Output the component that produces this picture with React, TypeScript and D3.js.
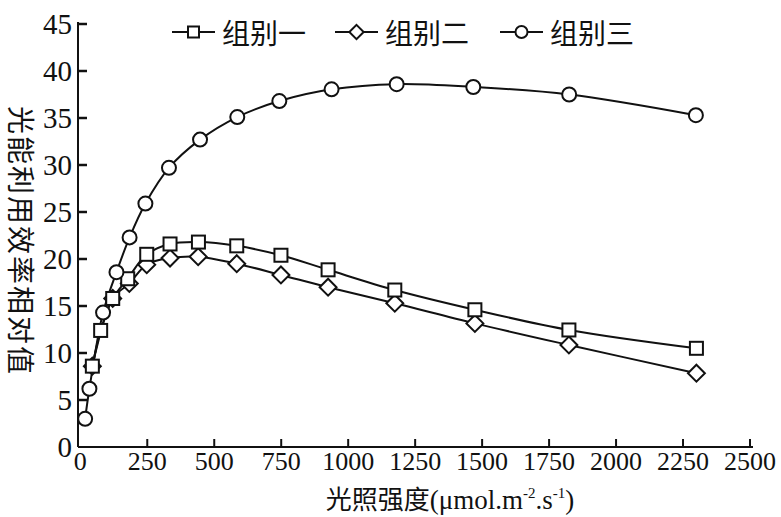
import React from "react";
import * as d3 from "d3";

const xTicks = [0, 250, 500, 750, 1000, 1250, 1500, 1750, 2000, 2250, 2500];
const yTicks = [0, 5, 10, 15, 20, 25, 30, 35, 40, 45];

const seriesNames = ["组别一", "组别二", "组别三"];

const group1X = [45, 76, 121, 177, 248, 335, 441, 584, 749, 925, 1174, 1473, 1824, 2300];
const group1Y = [8.6, 12.4, 15.8, 17.9, 20.5, 21.6, 21.8, 21.4, 20.4, 18.85, 16.7, 14.6, 12.45, 10.5];

const group2X = [45, 121, 183, 248, 335, 440, 584, 749, 925, 1174, 1473, 1824, 2300];
const group2Y = [8.6, 15.8, 17.4, 19.4, 20.1, 20.25, 19.5, 18.3, 17.0, 15.3, 13.15, 10.85, 7.85];

const group3X = [18, 34, 85, 135, 184, 243, 331, 447, 586, 743, 938, 1181, 1467, 1825, 2298];
const group3Y = [3.0, 6.2, 14.3, 18.6, 22.3, 25.9, 29.7, 32.7, 35.1, 36.8, 38.05, 38.6, 38.3, 37.5, 35.3];

const W = 781;
const H = 517;
const SERIF = "'Liberation Serif', 'DejaVu Serif', serif";
const CJK = "'Noto Sans CJK SC', 'Noto Sans', sans-serif";

type Pt = [number, number];

function Marker({ kind, x, y, s }: { kind: string; x: number; y: number; s: number }) {
  const common = { fill: "#fff", stroke: "#111", strokeWidth: 2 };
  if (kind === "square") {
    return <rect x={x - s} y={y - s} width={2 * s} height={2 * s} {...common} />;
  }
  if (kind === "diamond") {
    const d = s * 1.3;
    return (
      <path
        d={`M${x},${y - d}L${x + d},${y}L${x},${y + d}L${x - d},${y}Z`}
        {...common}
      />
    );
  }
  return <circle cx={x} cy={y} r={s + 0.5} {...common} />;
}

export default function App() {
  const x = d3.scaleLinear().domain([0, 2500]).range([80.3, 750]);
  const y = d3.scaleLinear().domain([0, 45]).range([447, 24]);

  const line = d3
    .line<Pt>()
    .x((d) => x(d[0]))
    .y((d) => y(d[1]))
    .curve(d3.curveCatmullRom.alpha(0.5));

  const series = [
    { kind: "square", xs: group1X, ys: group1Y },
    { kind: "diamond", xs: group2X, ys: group2Y },
    { kind: "circle", xs: group3X, ys: group3Y },
  ].map((s) => ({ ...s, pts: s.xs.map((v, i) => [v, s.ys[i]] as Pt) }));

  const drawOrder = [1, 0, 2];
  const legendX = [172, 335, 500];
  const legendY = 32;
  const axisX = 78;

  return (
    <svg
      width={W}
      height={H}
      style={{ position: "absolute", left: 0, top: 0, background: "#fff" }}
    >
      <rect x={0} y={0} width={W} height={H} fill="#fff" />
      {/* axes */}
      <line x1={axisX} x2={axisX} y1={y(45) - 2} y2={y(0)} stroke="#111" strokeWidth={2} />
      <line x1={axisX} x2={x(2500) + 3} y1={y(0)} y2={y(0)} stroke="#111" strokeWidth={2} />
      {yTicks.map((t) => (
        <g key={"y" + t}>
          {t > 0 && (
            <line x1={axisX} x2={axisX + 9} y1={y(t)} y2={y(t)} stroke="#111" strokeWidth={2.5} />
          )}
          <text
            x={72}
            y={y(t)}
            textAnchor="end"
            dominantBaseline="central"
            fontFamily={SERIF}
            fontSize={29}
            fill="#111"
          >
            {t}
          </text>
        </g>
      ))}
      {xTicks.map((t) => (
        <g key={"x" + t}>
          {t > 0 && (
            <line x1={x(t)} x2={x(t)} y1={y(0)} y2={y(0) - 8} stroke="#111" strokeWidth={2} />
          )}
          <text
            x={x(t)}
            y={470}
            textAnchor="middle"
            fontFamily={SERIF}
            fontSize={26}
            fill="#111"
          >
            {t}
          </text>
        </g>
      ))}
      {/* axis titles */}
      <text
        transform={`translate(22,${241}) rotate(90)`}
        textAnchor="middle"
        dominantBaseline="central"
        fontFamily={CJK}
        fontSize={28}
        letterSpacing={2}
        fill="#111"
      >
        光能利用效率相对值
      </text>
      <text x={450} y={509} textAnchor="middle" fontSize={26} fill="#111">
        <tspan fontFamily={CJK}>光照强度</tspan>
        <tspan fontFamily={SERIF} fontSize={27}>(μmol.m</tspan>
        <tspan fontFamily={SERIF} fontSize={15} dy={-11}>-2</tspan>
        <tspan fontFamily={SERIF} fontSize={27} dy={11}>.s</tspan>
        <tspan fontFamily={SERIF} fontSize={15} dy={-11}>-1</tspan>
        <tspan fontFamily={SERIF} fontSize={27} dy={11}>)</tspan>
      </text>
      {/* lines */}
      {series.map((s, i) => (
        <path key={"l" + i} d={line(s.pts) || ""} fill="none" stroke="#111" strokeWidth={2} />
      ))}
      {/* markers */}
      {drawOrder.map((i) =>
        series[i].pts.map((p, j) => (
          <Marker key={i + "-" + j} kind={series[i].kind} x={x(p[0])} y={y(p[1])} s={6.5} />
        ))
      )}
      {/* legend */}
      {series.map((s, i) => (
        <g key={"lg" + i}>
          <line
            x1={legendX[i]}
            x2={legendX[i] + 43}
            y1={legendY}
            y2={legendY}
            stroke="#111"
            strokeWidth={2}
          />
          <Marker kind={s.kind} x={legendX[i] + 21.5} y={legendY} s={5.5} />
          <text
            x={legendX[i] + 50}
            y={legendY}
            dominantBaseline="central"
            fontFamily={CJK}
            fontSize={28}
            fill="#111"
          >
            {seriesNames[i]}
          </text>
        </g>
      ))}
    </svg>
  );
}
